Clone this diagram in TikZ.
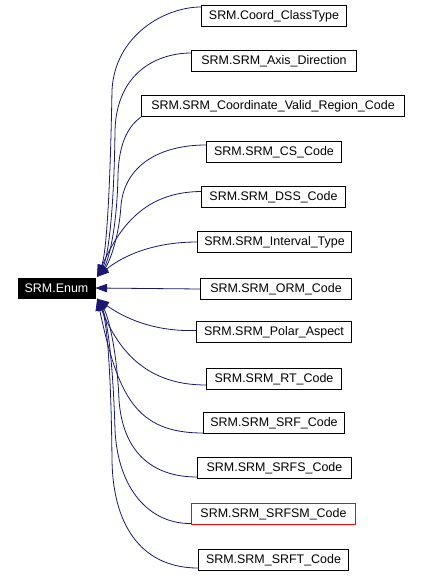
\documentclass[tikz,border=0pt]{standalone}
\usepackage{fontspec}
\setmainfont{Liberation Sans}
\usetikzlibrary{arrows.meta}
\definecolor{edgeblue}{RGB}{25,25,112}
\begin{document}
\begin{tikzpicture}[x=1bp,y=-1bp,
  cls/.style={draw=black, line width=1bp, fill=white, minimum height=21bp, inner sep=0pt, font=\fontsize{12.5}{14}\selectfont},
  hl/.style={cls, draw=red, line width=1.4bp},
  base/.style={draw=black, fill=black, text=white, minimum width=77bp, minimum height=20bp, inner sep=0pt, font=\fontsize{12.5}{14}\selectfont},
  edge/.style={draw=edgeblue, line width=0.8bp, -{Triangle[length=12bp,width=8.5bp]}}]
\useasboundingbox (0,0) rectangle (420,577);

\node[base] (enum) at (56.5,288) {SRM.Enum};

\node[cls, minimum width=145bp] (b1) at (274,16) {SRM.Coord\_ClassType};
\node[cls, minimum width=165bp] (b2) at (274,61) {SRM.SRM\_Axis\_Direction};
\node[cls, minimum width=263bp] (b3) at (273,106) {SRM.SRM\_Coordinate\_Valid\_Region\_Code};
\node[cls, minimum width=135bp] (b4) at (274,152) {SRM.SRM\_CS\_Code};
\node[cls, minimum width=144bp] (b5) at (273.5,197) {SRM.SRM\_DSS\_Code};
\node[cls, minimum width=154bp] (b6) at (274.5,242) {SRM.SRM\_Interval\_Type};
\node[cls, minimum width=151bp] (b7) at (276,289) {SRM.SRM\_ORM\_Code};
\node[cls, minimum width=155bp] (b8) at (274,332) {SRM.SRM\_Polar\_Aspect};
\node[cls, minimum width=135bp] (b9) at (274,379) {SRM.SRM\_RT\_Code};
\node[cls, minimum width=141bp] (b10) at (274,423) {SRM.SRM\_SRF\_Code};
\node[cls, minimum width=154bp] (b11) at (274.5,468) {SRM.SRM\_SRFS\_Code};
\node[hl, minimum width=164bp] (b12) at (273.5,514) {SRM.SRM\_SRFSM\_Code};
\node[cls, minimum width=150bp] (b13) at (273.5,560) {SRM.SRM\_SRFT\_Code};

\coordinate (up) at ([shift={(2bp,1bp)}]enum.north east);
\coordinate (dn) at ([shift={(2bp,-0.5bp)}]enum.south east);

% upper group
\draw[edge] ([yshift=9bp]b1.west) .. controls (165,7) and (115,35) .. (112,90)
  .. controls (110,200) and (106,255) .. (up);
\draw[edge] ([yshift=8bp]b2.west) .. controls (160,53) and (117,70) .. (115,130)
  .. controls (114,220) and (107,260) .. (up);
\draw[edge] (b3.south west) .. controls (130,125) and (119,140) .. (118,175)
  .. controls (117,230) and (108,262) .. (up);
\draw[edge] ([yshift=7bp]b4.west) .. controls (160,145) and (125,165) .. (121,205)
  .. controls (119,240) and (108,265) .. (up);
\draw[edge] ([yshift=5.5bp]b5.west) .. controls (150,192) and (122,220) .. (up);
\draw[edge] (b6.west) .. controls (150,242) and (120,258) .. (up);
% middle
\draw[edge] (b7.west) -- (enum.east);
% lower group
\draw[edge] ([yshift=1.5bp]b8.west) .. controls (150,332) and (120,315) .. (dn);
\draw[edge] ([yshift=-6bp]b9.west) .. controls (150,385) and (120,355) .. (dn);
\draw[edge] ([yshift=-10bp]b10.west) .. controls (135,433) and (118,395) .. (dn);
\draw[edge] ([yshift=-9bp]b11.west) .. controls (155,477) and (123,455) .. (119,400)
  .. controls (117,350) and (108,315) .. (dn);
\draw[edge] ([yshift=-9.5bp]b12.west) .. controls (150,524) and (118,490) .. (115,430)
  .. controls (113,360) and (107,318) .. (dn);
\draw[edge] ([yshift=-8bp]b13.west) .. controls (145,568) and (113,530) .. (112,460)
  .. controls (111,360) and (106,318) .. (dn);
\end{tikzpicture}
\end{document}
